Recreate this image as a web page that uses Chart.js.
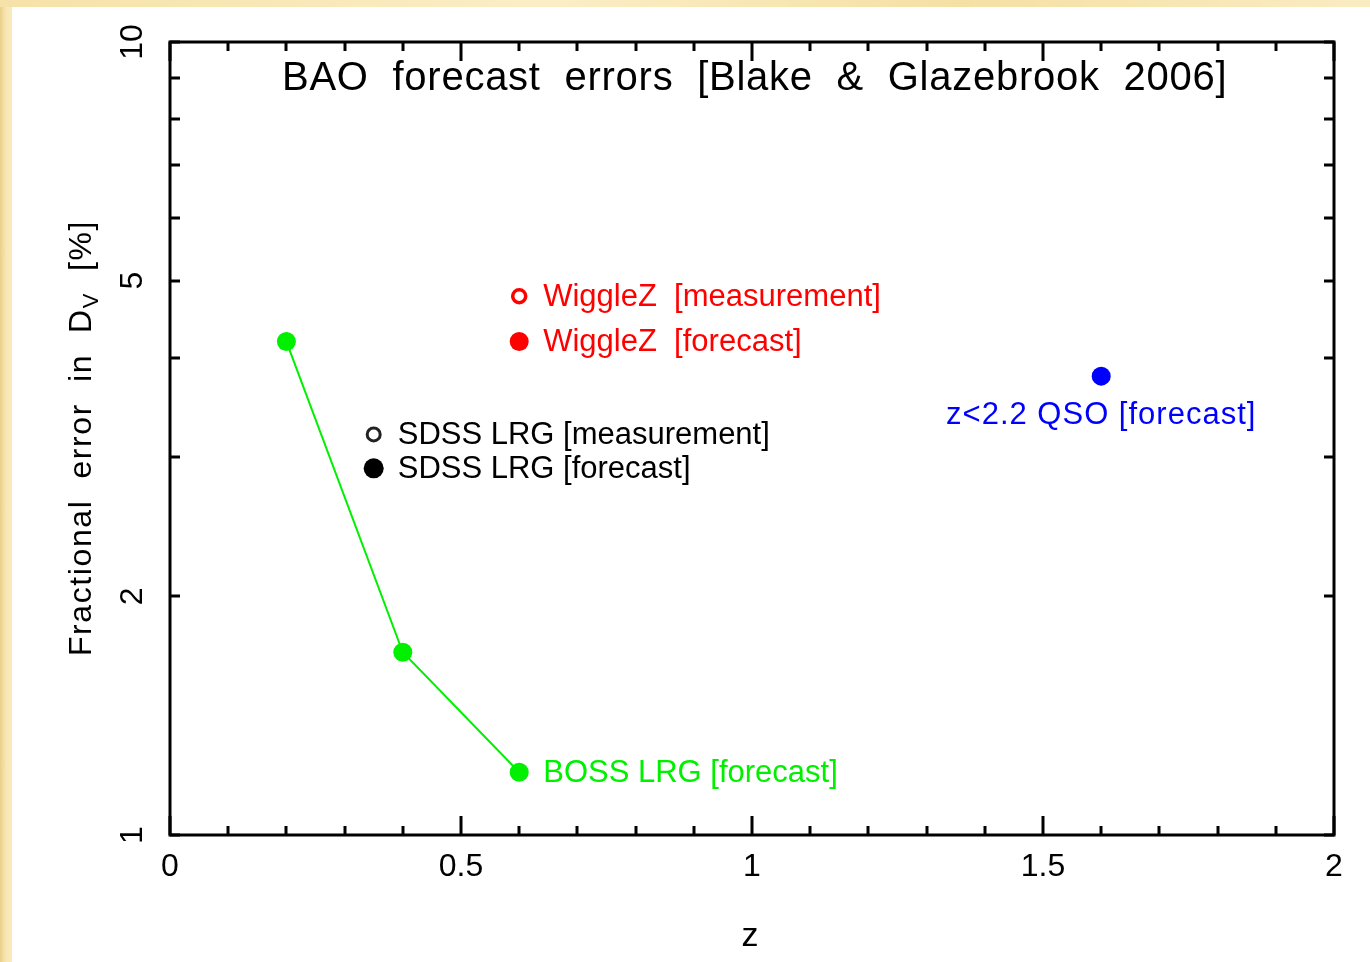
<!DOCTYPE html>
<html>
<head>
<meta charset="utf-8">
<title>BAO forecast errors</title>
<script src="https://cdn.jsdelivr.net/npm/chart.js@4.4.1/dist/chart.umd.min.js"></script>
<style>
  html, body { margin: 0; padding: 0; }
  body {
    width: 1370px; height: 962px; overflow: hidden; position: relative;
    background: linear-gradient(90deg, #e9d08a 0px, #f8e7b4 6px, #f9ebbe 12px);
  }
  #sheet {
    position: absolute; left: 12px; top: 7px; right: 0; bottom: 0;
    background: #ffffff;
  }
  #topband {
    position: absolute; left: 0; top: 0; right: 0; height: 7px;
    background: linear-gradient(90deg, #f6e2a8, #fbeec6 40%, #f5e0a4 70%, #faecc2);
  }
  #chart { position: absolute; left: 0; top: 0; }
</style>
</head>
<body>
<div id="topband"></div>
<div id="sheet"></div>
<canvas id="chart" width="1370" height="962"></canvas>
<script>
// Fractional error in D_V (%) against redshift z
const bossZ = [0.2, 0.4, 0.6];
const bossErr = [4.19, 1.70, 1.20];
const wigglezMeasZ = [0.6];
const wigglezMeasErr = [4.78];
const wigglezForeZ = [0.6];
const wigglezForeErr = [4.19];
const sdssMeasZ = [0.35];
const sdssMeasErr = [3.20];
const sdssForeZ = [0.35];
const sdssForeErr = [2.90];
const qsoZ = [1.6];
const qsoErr = [3.79];

// Axis ticks
const xMajorTicks = [0, 0.5, 1, 1.5, 2];
const xMinorTicks = [0.1, 0.2, 0.3, 0.4, 0.6, 0.7, 0.8, 0.9, 1.1, 1.2, 1.3, 1.4, 1.6, 1.7, 1.8, 1.9];
const xTickLabels = ['0', '0.5', '1', '1.5', '2'];
const yTicks = [1, 2, 3, 4, 5, 6, 7, 8, 9, 10];
const yLabelTicks = [1, 2, 5, 10];
const yTickLabels = ['1', '2', '5', '10'];

const titleText = 'BAO  forecast  errors  [Blake  &  Glazebrook  2006]';
const xTitle = 'z';
const yTitleMain = 'Fractional  error  in  D';
const yTitleSub = 'V';
const yTitleTail = '  [%]';

const RED = '#ff0000', GREEN = '#00f000', BLUE = '#0000ff', BLACK = '#000000';
const FONT = '"Liberation Sans", Arial, sans-serif';

const toXY = (xs, ys) => xs.map((x, i) => ({ x: x, y: ys[i] }));

const datasets = [
  { label: 'BOSS LRG [forecast]', data: toXY(bossZ, bossErr), showLine: true,
    borderColor: GREEN, backgroundColor: GREEN, borderWidth: 2,
    pointRadius: 9.5, pointBorderWidth: 0, pointBackgroundColor: GREEN,
    note: { side: 'right', index: 2, color: GREEN } },
  { label: 'WiggleZ  [measurement]', data: toXY(wigglezMeasZ, wigglezMeasErr),
    borderColor: RED, backgroundColor: 'rgba(0,0,0,0)',
    pointRadius: 6.5, pointBorderWidth: 3.5, pointBorderColor: RED,
    note: { side: 'right', index: 0, color: RED } },
  { label: 'WiggleZ  [forecast]', data: toXY(wigglezForeZ, wigglezForeErr),
    borderColor: RED, backgroundColor: RED,
    pointRadius: 9.5, pointBorderWidth: 0, pointBackgroundColor: RED,
    note: { side: 'right', index: 0, color: RED } },
  { label: 'SDSS LRG [measurement]', data: toXY(sdssMeasZ, sdssMeasErr),
    borderColor: '#222222', backgroundColor: 'rgba(0,0,0,0)',
    pointRadius: 6.5, pointBorderWidth: 3, pointBorderColor: '#222222',
    note: { side: 'right', index: 0, color: BLACK } },
  { label: 'SDSS LRG [forecast]', data: toXY(sdssForeZ, sdssForeErr),
    borderColor: BLACK, backgroundColor: BLACK,
    pointRadius: 10, pointBorderWidth: 0, pointBackgroundColor: BLACK,
    note: { side: 'right', index: 0, color: BLACK } },
  { label: 'z<2.2 QSO [forecast]', data: toXY(qsoZ, qsoErr),
    borderColor: BLUE, backgroundColor: BLUE,
    pointRadius: 9.5, pointBorderWidth: 0, pointBackgroundColor: BLUE,
    note: { side: 'below', index: 0, color: BLUE, spacing: '1px' } }
];

// Frame, inward ticks, tick labels and axis titles
const framePlugin = {
  id: 'frame',
  beforeDatasetsDraw(chart) {
    const { ctx, chartArea: a, scales: { x, y } } = chart;
    ctx.save();
    ctx.strokeStyle = BLACK;
    ctx.lineWidth = 3;
    ctx.lineCap = 'butt';
    ctx.strokeRect(a.left, a.top, a.right - a.left, a.bottom - a.top);

    ctx.lineWidth = 3;
    ctx.beginPath();
    const xTick = (v, len) => {
      const px = Math.round(x.getPixelForValue(v));
      ctx.moveTo(px, a.bottom); ctx.lineTo(px, a.bottom - len);
      ctx.moveTo(px, a.top); ctx.lineTo(px, a.top + len);
    };
    xMinorTicks.forEach(v => xTick(v, 9));
    xMajorTicks.forEach(v => xTick(v, 19));
    yTicks.forEach(v => {
      const py = Math.round(y.getPixelForValue(v));
      ctx.moveTo(a.left, py); ctx.lineTo(a.left + 10, py);
      ctx.moveTo(a.right, py); ctx.lineTo(a.right - 10, py);
    });
    ctx.stroke();

    ctx.fillStyle = BLACK;
    ctx.font = '32px ' + FONT;
    ctx.textAlign = 'center';
    ctx.textBaseline = 'middle';
    xMajorTicks.forEach((v, i) => {
      ctx.fillText(xTickLabels[i], x.getPixelForValue(v), a.bottom + 32);
    });
    yLabelTicks.forEach((v, i) => {
      ctx.save();
      ctx.translate(a.left - 37, y.getPixelForValue(v));
      ctx.rotate(-Math.PI / 2);
      ctx.fillText(yTickLabels[i], 0, 0);
      ctx.restore();
    });

    // x title
    ctx.font = '34px ' + FONT;
    ctx.fillText(xTitle, (a.left + a.right) / 2 - 2, a.bottom + 102);

    // y title with subscript
    ctx.save();
    ctx.translate(a.left - 88, 438);
    ctx.rotate(-Math.PI / 2);
    ctx.textAlign = 'left';
    ctx.letterSpacing = '1.6px';
    ctx.font = '32px ' + FONT;
    const w1 = ctx.measureText(yTitleMain).width;
    const w3 = ctx.measureText(yTitleTail).width;
    ctx.font = '22px ' + FONT;
    const w2 = ctx.measureText(yTitleSub).width;
    let cx = -(w1 + w2 + w3) / 2;
    ctx.font = '32px ' + FONT;
    ctx.fillText(yTitleMain, cx, 0);
    cx += w1;
    ctx.font = '22px ' + FONT;
    ctx.fillText(yTitleSub, cx, 10);
    cx += w2;
    ctx.font = '32px ' + FONT;
    ctx.fillText(yTitleTail, cx, 0);
    ctx.restore();

    // title
    ctx.font = '40px ' + FONT;
    ctx.letterSpacing = '0.75px';
    ctx.textAlign = 'left';
    ctx.fillText(titleText, 282, 79);
    ctx.restore();
  }
};

// Series names written beside their markers
const notePlugin = {
  id: 'notes',
  afterDatasetsDraw(chart) {
    const { ctx } = chart;
    ctx.save();
    ctx.font = '31px ' + FONT;
    ctx.textBaseline = 'middle';
    chart.data.datasets.forEach((ds, i) => {
      const n = ds.note;
      const el = chart.getDatasetMeta(i).data[n.index];
      ctx.fillStyle = n.color;
      ctx.letterSpacing = n.spacing || '0px';
      if (n.side === 'right') {
        ctx.textAlign = 'left';
        ctx.fillText(ds.label, el.x + 24, el.y + 1);
      } else {
        ctx.textAlign = 'center';
        ctx.fillText(ds.label, el.x, el.y + 39);
      }
    });
    ctx.restore();
  }
};

new Chart(document.getElementById('chart'), {
  type: 'scatter',
  data: { datasets: datasets },
  options: {
    responsive: false,
    animation: false,
    layout: { padding: { left: 170, right: 36, top: 42, bottom: 127 } },
    plugins: { legend: { display: false }, tooltip: { enabled: false } },
    scales: {
      x: { type: 'linear', min: 0, max: 2, display: false },
      y: { type: 'logarithmic', min: 1, max: 10, display: false }
    },
    elements: { line: { tension: 0 } }
  },
  plugins: [framePlugin, notePlugin]
});
</script>
</body>
</html>
